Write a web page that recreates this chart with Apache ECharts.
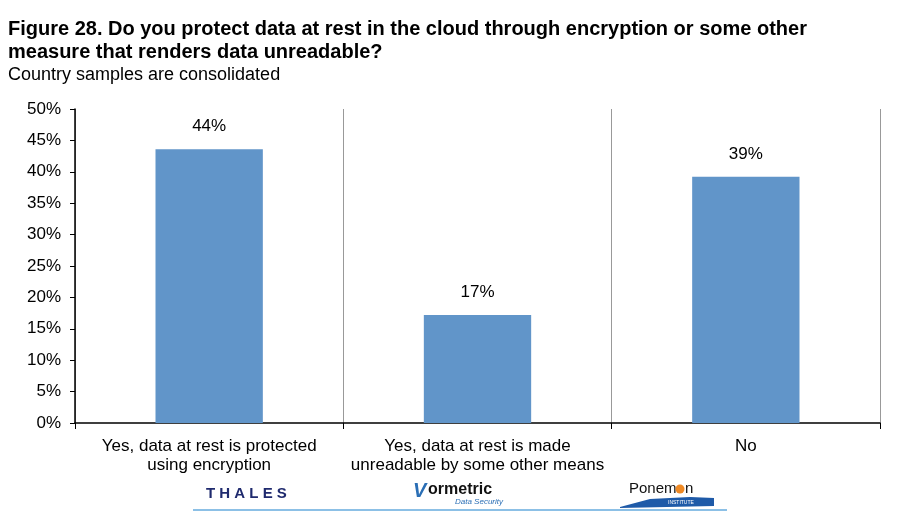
<!DOCTYPE html>
<html><head><meta charset="utf-8">
<script src="https://cdn.jsdelivr.net/npm/echarts@6/dist/echarts.min.js"></script>
<style>html,body{margin:0;padding:0;background:#fff}#c{width:900px;height:513px}</style>
</head><body><div id="c"></div>
<script>
const categories = ["Yes, data at rest is protected\nusing encryption", "Yes, data at rest is made\nunreadable by some other means", "No"];
const values = [43.6, 17.2, 39.2];
const valueLabels = ["44%", "17%", "39%"];
const yTicks = [0, 5, 10, 15, 20, 25, 30, 35, 40, 45, 50];

const chart = echarts.init(document.getElementById('c'));
const F = 'Arial, "Liberation Sans", sans-serif';
chart.setOption({
  backgroundColor: '#fff',
  animation: false,
  title: {
    text: 'Figure 28. Do you protect data at rest in the cloud through encryption or some other\nmeasure that renders data unreadable?',
    subtext: 'Country samples are consolidated',
    left: 8, top: 18, padding: 0,
    itemGap: 1,
    textStyle: {fontFamily: F, fontSize: 20, fontWeight: 'bold', color: '#000', lineHeight: 23},
    subtextStyle: {fontFamily: F, fontSize: 18, color: '#000', lineHeight: 20}
  },
  grid: {left: 75, right: 20, top: 109, bottom: 90, containLabel: false},
  xAxis: {
    type: 'category', data: categories,
    axisLine: {lineStyle: {color: '#000', width: 1.5}},
    axisTick: {show: true, interval: 0, length: 6, lineStyle: {color: '#000'}},
    splitLine: {show: true, interval: 0, lineStyle: {color: '#999', width: 1}},
    axisLabel: {interval: 0, fontFamily: F, fontSize: 17, color: '#000', lineHeight: 19, margin: 14},
  },
  yAxis: {
    type: 'value', min: 0, max: 50, interval: 5,
    axisLine: {show: true, lineStyle: {color: '#000', width: 1.5}},
    axisTick: {show: true, length: 5, lineStyle: {color: '#000'}},
    splitLine: {show: false},
    axisLabel: {fontFamily: F, fontSize: 17, color: '#000', margin: 14,
      formatter: v => yTicks.includes(v) ? v + '%' : ''}
  },
  series: [{
    type: 'bar', data: values, barWidth: '40%',
    itemStyle: {color: '#6195C9'},
    label: {show: true, position: 'top', distance: 14, fontFamily: F, fontSize: 17, color: '#000',
      formatter: p => valueLabels[p.dataIndex]}
  }],
  graphic: [
    {type: 'text', left: 206, top: 486, style: {text: 'T H A L E S', font: 'bold 15px ' + F, fill: '#1F2A6E'}},
    {type: 'text', left: 413, top: 481, style: {text: 'V', font: 'bold italic 20px ' + F, fill: '#2A6EB5'}},
    {type: 'text', left: 428, top: 482, style: {text: 'ormetric', font: 'bold 16px ' + F, fill: '#111'}},
    {type: 'text', left: 455, top: 498, style: {text: 'Data Security', font: 'italic 8px ' + F, fill: '#2A6EB5'}},
    {type: 'text', left: 629, top: 481, style: {text: 'Ponem', font: '15px ' + F, fill: '#111'}},
    {type: 'circle', shape: {cx: 680, cy: 489, r: 4.5}, style: {fill: '#F08A24'}},
    {type: 'text', left: 685, top: 481, style: {text: 'n', font: '15px ' + F, fill: '#111'}},
    {type: 'polygon', shape: {points: [[620,507],[650,499],[690,497],[714,498],[714,506],[620,508]]}, style: {fill: '#1E5AA8'}},
    {type: 'text', left: 668, top: 500, style: {text: 'INSTITUTE', font: '5px ' + F, fill: '#fff'}},
    {type: 'line', shape: {x1: 193, y1: 510, x2: 727, y2: 510}, style: {stroke: '#8CC0E6', lineWidth: 2}}
  ]
});
</script></body></html>
